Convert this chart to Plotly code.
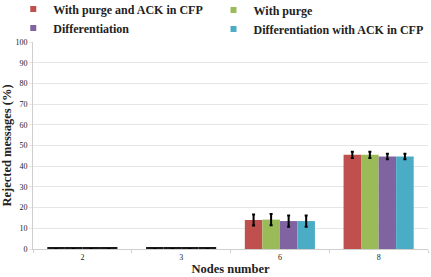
import plotly.graph_objects as go

categories = ["2", "3", "6", "8"]
series_names = ["With purge and ACK in CFP", "With purge", "Differentiation", "Differentiation with ACK in CFP"]
purge_ack = [0, 0, 14.0, 45.5]
purge = [0, 0, 14.2, 45.5]
diff = [0, 0, 13.5, 44.7]
diff_ack = [0, 0, 13.5, 44.7]
err_purge_ack = [0, 0, 2.7, 1.5]
err_purge = [0, 0, 2.7, 1.5]
err_diff = [0, 0, 2.7, 1.3]
err_diff_ack = [0, 0, 2.7, 1.3]
colors = ["#c0504d", "#9bbb59", "#8064a2", "#4bacc6"]
legend_ids = ["legend", "legend2", "legend", "legend2"]

font_family = "Liberation Serif, Times New Roman, serif"

fig = go.Figure()
for name, vals, errs, col in zip(series_names, [purge_ack, purge, diff, diff_ack],
                                 [err_purge_ack, err_purge, err_diff, err_diff_ack], colors):
    fig.add_trace(go.Bar(
        x=categories, y=vals, name=name, showlegend=False,
        marker=dict(color=col, line=dict(color="#1a1a1a", width=[4 if v == 0 else 0 for v in vals])),
        error_y=dict(type="data", array=errs, color="black", thickness=2, width=1.5),
    ))
# legend-only entries (small square markers)
for name, col, lg in zip(series_names, colors, legend_ids):
    fig.add_trace(go.Scatter(
        x=[None], y=[None], mode="markers", name=name, legend=lg,
        marker=dict(symbol="square", size=6, color=col),
    ))

leg_font = dict(family=font_family, size=12, color="#222222", weight="bold")
fig.update_layout(
    width=431, height=277,
    margin=dict(l=33, r=3, t=42, b=28, autoexpand=False),
    paper_bgcolor="white", plot_bgcolor="white",
    barmode="group", bargap=0.29, bargroupgap=0.0,
    font=dict(family=font_family, color="#222222", size=8),
    legend=dict(x=-0.05, y=1.23, xanchor="left", yanchor="top", font=leg_font,
                itemwidth=30, tracegroupgap=0, bgcolor="rgba(0,0,0,0)", traceorder="normal"),
    legend2=dict(x=0.457, y=1.225, xanchor="left", yanchor="top", font=leg_font,
                 itemwidth=30, tracegroupgap=0, bgcolor="rgba(0,0,0,0)", traceorder="normal"),
    xaxis=dict(
        title=dict(text="<b>Nodes number</b>", font=dict(size=12.5, family=font_family), standoff=3),
        showline=True, linecolor="#cfcfcf", ticks="outside", tickcolor="#cfcfcf", ticklen=3,
        tickson="boundaries", tickfont=dict(size=8),
    ),
    yaxis=dict(
        title=dict(text="<b>Rejected messages (%)</b>", font=dict(size=12.5, family=font_family), standoff=4),
        range=[0, 100], dtick=10, showgrid=True, gridcolor="#e6e6e6", gridwidth=1,
        showline=True, linecolor="#cfcfcf", ticks="outside", tickcolor="#e6e6e6", ticklen=3,
        zeroline=False, tickfont=dict(size=8),
    ),
)
fig.write_html("out.html")
